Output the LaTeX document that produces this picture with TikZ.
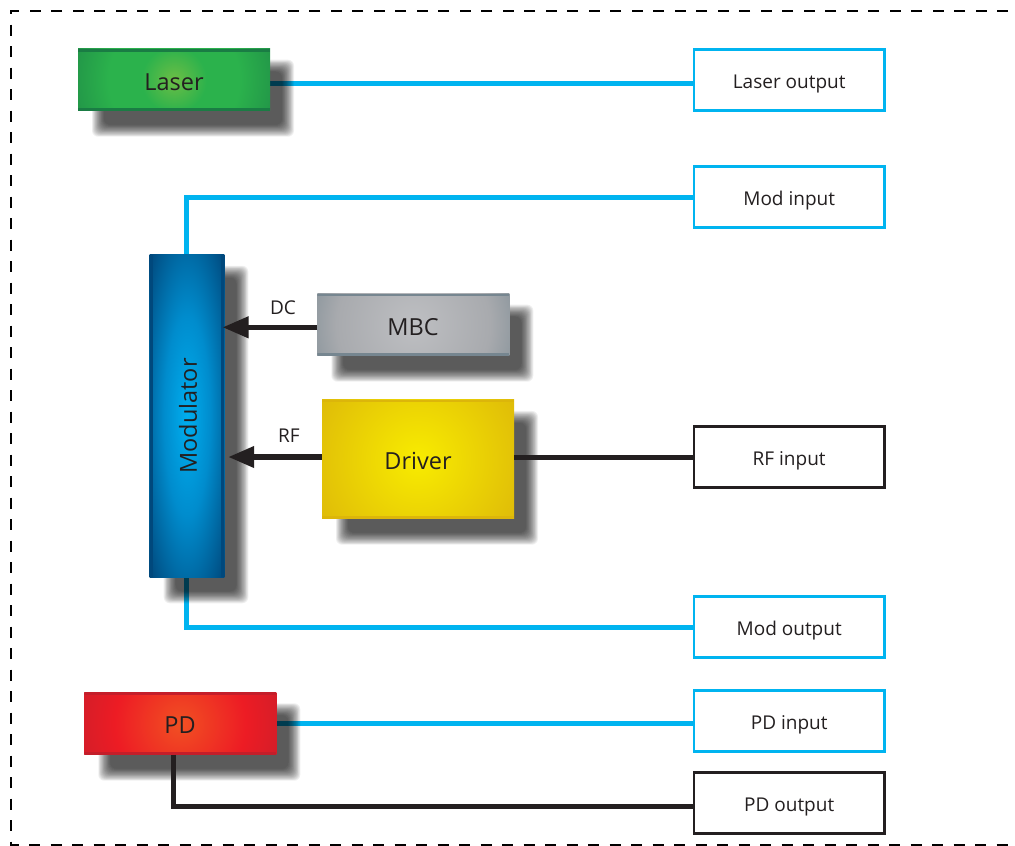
\documentclass[tikz,border=0pt]{standalone}
\usepackage{fontspec}
\setmainfont{Open Sans}
\usetikzlibrary{arrows.meta,calc}
\pgfdeclarelayer{lines}\pgfdeclarelayer{shadows}
\pgfsetlayers{lines,shadows,main}
\definecolor{ink}{HTML}{231F20}
\definecolor{cy}{HTML}{00B4F0}
\definecolor{laserband}{RGB}{26,124,68}
\definecolor{modband}{RGB}{0,72,124}
\definecolor{mbcband}{RGB}{118,134,144}
\definecolor{driverband}{RGB}{220,182,10}
\definecolor{pdband}{RGB}{196,30,42}
\pgfdeclareradialshading{lasershade}{\pgfpointorigin}{rgb(0bp)=(0.424,0.745,0.271);rgb(8.5bp)=(0.169,0.698,0.298);rgb(17bp)=(0.169,0.698,0.298);rgb(35.4bp)=(0.102,0.486,0.267);rgb(50bp)=(0.102,0.486,0.267)}
\pgfdeclareradialshading{mbcshade}{\pgfpointorigin}{rgb(0bp)=(0.745,0.749,0.761);rgb(20bp)=(0.659,0.667,0.682);rgb(35.4bp)=(0.439,0.510,0.549);rgb(50bp)=(0.439,0.510,0.549)}
\pgfdeclareradialshading{drivershade}{\pgfpointorigin}{rgb(0bp)=(0.973,0.925,0);rgb(35.4bp)=(0.855,0.698,0.039);rgb(50bp)=(0.855,0.698,0.039)}
\pgfdeclareradialshading{modshade}{\pgfpointorigin}{rgb(0bp)=(0,0.682,0.937);rgb(15.5bp)=(0,0.549,0.804);rgb(35.4bp)=(0,0.282,0.486);rgb(50bp)=(0,0.282,0.486)}
\pgfdeclareradialshading{pdshade}{\pgfpointorigin}{rgb(0bp)=(0.945,0.314,0.137);rgb(17bp)=(0.929,0.110,0.141);rgb(35.4bp)=(0.745,0.118,0.176);rgb(50bp)=(0.745,0.118,0.176)}
\tikzset{
  x=1pt,y=-1pt,
  blk/.style n args={3}{draw=none,inner sep=0pt,outer sep=0pt,anchor=center,text=ink,
    minimum width=192pt,
    path picture={
      \shade[shading=#1] ([shift={(-96pt,-96pt)}]path picture bounding box.center) rectangle ([shift={(96pt,96pt)}]path picture bounding box.center);
      \fill[#2] (path picture bounding box.north west) rectangle ([yshift=-#3]path picture bounding box.north east);
      \fill[#2] (path picture bounding box.south west) rectangle ([yshift=#3]path picture bounding box.south east);}},
  port/.style={draw=#1,line width=2.8pt,fill=white,minimum width=190.3pt,minimum height=60.3pt,inner sep=0pt,outer sep=1.4pt,text=ink,font=\fontsize{19}{19}\selectfont,text height=16.5pt,text depth=0pt},
  opt/.style={draw=cy,line width=5pt,line join=miter},
  elec/.style={draw=ink,line width=5pt,line join=miter},
  arrowline/.style={draw=ink,line width=5.5pt,-{Triangle[length=26pt,width=20.5pt]},shorten >=-1.8pt},
  tag/.style={text=ink,inner sep=0pt,font=\fontsize{19}{19}\selectfont},
  blocktext/.style={text=ink,font=\fontsize{23.5}{23.5}\selectfont,inner sep=0pt},
  frame/.style={draw=black,line width=2.8pt,dash pattern=on 11pt off 10.5pt}
}
\newcommand\castshadow[1]{%
  \begin{pgfonlayer}{shadows}
  \foreach \d in {-6,-5.2,...,6.1}{
    \fill[black,fill opacity=.0635,rounded corners=6pt]
      ($(#1.north west)+(20-\d,17-\d)$) rectangle ($(#1.south east)+(18+\d,20+\d)$);
  }
  \end{pgfonlayer}}
\begin{document}
\begin{tikzpicture}
\useasboundingbox (0,0) rectangle (1015,846);
% frame
\draw[frame] (1008,11) -- (11,11) -- (11,845) -- (1015,845);
% blocks
\node[blk={lasershade}{laserband}{3pt},minimum height=62pt] (laser) at (174,79.7) {};
\node[draw=none,inner sep=0pt,outer sep=0pt,shading=modshade,minimum width=74.6pt,minimum height=322.5pt] (mod) at (187,416) {};
\node[blk={mbcshade}{mbcband}{2.5pt},minimum height=62pt] (mbc) at (413.3,324.7) {};
\node[blk={drivershade}{driverband}{2.5pt},minimum height=118.7pt] (driver) at (418,459.3) {};
\node[blk={pdshade}{pdband}{3pt},minimum height=62.4pt] (pd) at (180.3,723.5) {};
\fill[modband] (mod.north west) rectangle ([xshift=3pt]mod.south west);
\fill[modband] ([xshift=-3pt]mod.north east) rectangle (mod.south east);
\node[blocktext] (lasertxt) at (174,82) {Laser};
\node[blocktext,rotate=90] (modtxt) at (188,416) {Modulator};
\node[blocktext] (mbctxt) at (413,327) {MBC};
\node[blocktext] (drivertxt) at (418,461) {Driver};
\node[blocktext] (pdtxt) at (180,725) {PD};
\castshadow{laser}\castshadow{mod}\castshadow{mbc}\castshadow{driver}\castshadow{pd}
% ports
\node[port=cy] (lo) at (789.2,80) {Laser output};
\node[port=cy] (mi) at (789.2,197) {Mod input};
\node[port=ink] (rf) at (789.2,457) {RF input};
\node[port=cy] (mo) at (789.2,627) {Mod output};
\node[port=cy] (pi) at (789.2,721) {PD input};
\node[port=ink] (po) at (789.2,803) {PD output};
% connectors
\begin{pgfonlayer}{lines}
\draw[opt] (laser.east |- 0,83) -- (lo.west |- 0,83);
\draw[opt] (186.5,254.7) -- (186.5,197) -- (mi.west);
\draw[opt] (186.5,577) -- (186.5,627) -- (mo.west);
\draw[opt] (pd.east |- 0,723) -- (pi.west |- 0,723);
\end{pgfonlayer}
\draw[elec] (driver.east |- 0,457) -- (rf.west);
\draw[elec] (173,754.7) -- (173,806) -- (po.west |- 0,806);
\draw[arrowline] (mbc.west |- 0,327.3) -- (mod.east |- 0,327.3);
\draw[arrowline] (driver.west |- 0,457) -- ([xshift=5.7pt]mod.east |- 0,457);
\node[tag] (dc) at (283,308) {DC};
\node[tag] (rft) at (289,436) {RF};
\end{tikzpicture}
\end{document}
